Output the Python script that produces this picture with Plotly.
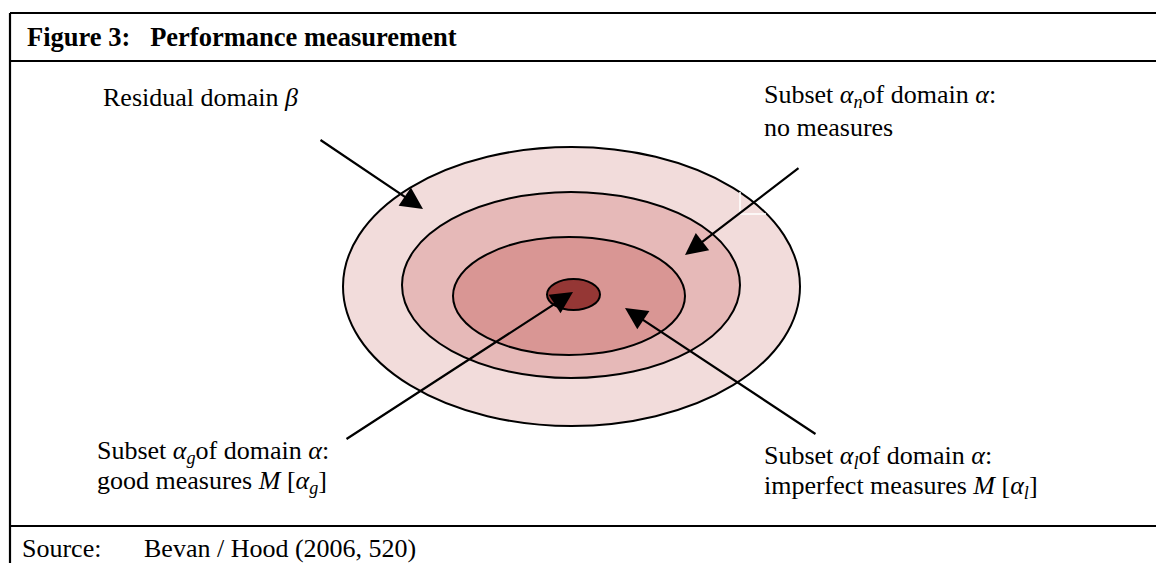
import plotly.graph_objects as go

# ---- content ----
title_text = "Figure 3:   Performance measurement"
source_label = "Source:"
source_text = "Bevan / Hood (2006, 520)"

# nested domains: name, centre x, centre y, radius x, radius y, fill colour
ring_names = ["Residual domain", "Subset alpha_n", "Subset alpha_l", "Subset alpha_g"]
ring_cx = [571.5, 571, 569, 573.5]
ring_cy = [286.5, 285, 296, 294.5]
ring_rx = [228.5, 169, 116, 26.5]
ring_ry = [139.5, 93, 59, 15.5]
ring_colors = ["#F2DCDB", "#E6B9B8", "#D99694", "#953735"]

# label text lines
label_lines = [
    ["Residual domain <i>β</i>"],
    ["Subset <i>α</i><sub><i>n</i></sub>of domain <i>α</i>:", "no measures"],
    ["Subset <i>α</i><sub><i>g</i></sub>of domain <i>α</i>:", "good measures <i>M</i> [<i>α</i><sub><i>g</i></sub>]"],
    ["Subset <i>α</i><sub><i>l</i></sub>of domain <i>α</i>:", "imperfect measures <i>M</i> [<i>α</i><sub><i>l</i></sub>]"],
]
label_x = [101, 762, 95, 762]
label_y = [[97], [96, 127], [452, 482], [457, 487]]

# arrows: tail -> tip
arrow_tail_x = [319, 800, 345, 817]
arrow_tail_y = [139, 167, 440, 435]
arrow_tip_x = [423, 685, 573, 625]
arrow_tip_y = [209, 255, 292, 308]

W, H = 1164, 563
OFF = 8  # page body margin
FONT = "Liberation Serif, Times New Roman, serif"

fig = go.Figure()
fig.add_trace(go.Scatter(x=[OFF, W], y=[OFF, H], mode="markers",
                         marker=dict(opacity=0), hoverinfo="skip", showlegend=False))

shapes = []
frame = [(10, 13, W + 20, 13), (10, 61, W + 20, 61), (10, 526, W + 20, 526),
         (10, 13, 10, H + 20)]
for x0, y0, x1, y1 in frame:
    shapes.append(dict(type="line", xref="x", yref="y", x0=x0, y0=y0, x1=x1, y1=y1,
                       line=dict(color="black", width=2.2)))

for cx, cy, rx, ry, col in zip(ring_cx, ring_cy, ring_rx, ring_ry, ring_colors):
    shapes.append(dict(type="circle", xref="x", yref="y",
                       x0=cx - rx, x1=cx + rx, y0=cy - ry, y1=cy + ry,
                       fillcolor=col, line=dict(color="black", width=2)))

shapes.append(dict(type="path", xref="x", yref="y",
                   path="M 740 192 L 740 214 L 766 214",
                   line=dict(color="white", width=1.5)))

annotations = []
annotations.append(dict(x=25, y=37, xref="x", yref="y", text="<b>" + title_text + "</b>",
                        showarrow=False, xanchor="left", yanchor="middle",
                        font=dict(family=FONT, size=26.5, color="black")))
for lines, lx, lys in zip(label_lines, label_x, label_y):
    for t, ly in zip(lines, lys):
        annotations.append(dict(x=lx, y=ly, xref="x", yref="y", text=t, showarrow=False,
                                xanchor="left", yanchor="middle",
                                font=dict(family=FONT, size=26, color="black")))
annotations.append(dict(x=20, y=548, xref="x", yref="y", text=source_label, showarrow=False,
                        xanchor="left", yanchor="middle",
                        font=dict(family=FONT, size=26, color="black")))
annotations.append(dict(x=142, y=548, xref="x", yref="y", text=source_text, showarrow=False,
                        xanchor="left", yanchor="middle",
                        font=dict(family=FONT, size=26, color="black")))

for tx, ty, hx, hy in zip(arrow_tail_x, arrow_tail_y, arrow_tip_x, arrow_tip_y):
    annotations.append(dict(x=hx, y=hy, ax=tx, ay=ty, xref="x", yref="y",
                            axref="x", ayref="y", text="", showarrow=True,
                            arrowhead=2, arrowsize=2.0, arrowwidth=2.2,
                            arrowcolor="black", standoff=0))

fig.update_layout(
    width=W, height=H, margin=dict(l=0, r=0, t=0, b=0),
    paper_bgcolor="white", plot_bgcolor="white",
    xaxis=dict(range=[OFF, W + OFF], visible=False, fixedrange=True),
    yaxis=dict(range=[H + OFF, OFF], visible=False, fixedrange=True),
    shapes=shapes, annotations=annotations, showlegend=False,
)
fig.write_html("out.html")
